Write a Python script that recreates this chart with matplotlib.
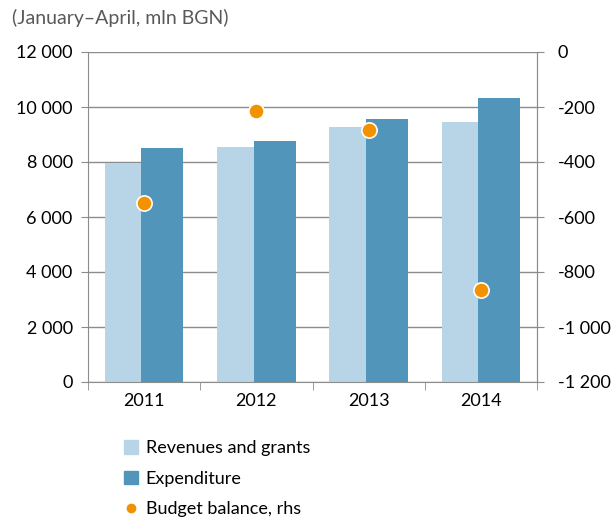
import matplotlib.pyplot as plt
import numpy as np
from matplotlib.lines import Line2D
from matplotlib.patches import Patch

plt.rcParams['font.family'] = ['Lato', 'DejaVu Sans']

years = ["2011", "2012", "2013", "2014"]
revenues = [7950, 8545, 9285, 9455]
expenditure = [8495, 8750, 9575, 10330]
balance = [-550, -216, -285, -864]

c_rev = "#b7d5e6"
c_exp = "#5195ba"
c_bal = "#f39200"
grey = "#8c8c8c"
fs = 13

fig = plt.figure(figsize=(6.14, 5.19), dpi=100)
ax = fig.add_axes([88 / 614, 1 - 382 / 519, 449 / 614, 330 / 519])
x = np.arange(len(years))
w = 0.374
ax.bar(x - 0.163, revenues, w, color=c_rev, zorder=2)
ax.bar(x + 0.163, expenditure, w, color=c_exp, zorder=3)
ax.set_xlim(-0.5, 3.5)
ax.set_ylim(0, 12000)
ax.set_yticks(range(0, 12001, 2000))
ax.set_yticklabels([f"{v:,}".replace(",", " ") for v in range(0, 12001, 2000)])
ax.yaxis.grid(True, color=grey, lw=1, zorder=0)
ax.set_axisbelow(True)
ax.set_xticks(x)
ax.set_xticklabels(years)
ax.set_xticks(np.arange(-0.5, 4, 1), minor=True)
ax.tick_params(axis='x', which='major', length=0, pad=8, labelsize=fs)
ax.tick_params(axis='x', which='minor', length=6, color=grey)
ax.tick_params(axis='y', length=5, color=grey, labelsize=fs, pad=6)
ax.spines['top'].set_visible(False)
for s in ['left', 'right', 'bottom']:
    ax.spines[s].set_color(grey)

ax2 = ax.twinx()
ax2.scatter(x, balance, s=120, color=c_bal, edgecolor='white', linewidth=1.2, zorder=5)
ax2.set_ylim(-1200, 0)
ax2.set_yticks(range(-1200, 1, 200))
ax2.set_yticklabels([f"{v:,}".replace(",", " ") for v in range(-1200, 1, 200)])
ax2.tick_params(axis='y', length=5, color=grey, labelsize=fs, pad=10)
for s in ['top', 'left', 'bottom']:
    ax2.spines[s].set_visible(False)
ax2.spines['right'].set_color(grey)

fig.text(12 / 614, 1 - 18 / 519, "(January–April, mln BGN)", fontsize=14, color="#595959", va='center')

handles = [Patch(color=c_rev), Patch(color=c_exp),
           Line2D([], [], marker='o', ls='', color=c_bal, markersize=6)]
labels = ["Revenues and grants", "Expenditure", "Budget balance, rhs"]
fig.legend(handles, labels, loc='upper left', bbox_to_anchor=(124 / 614, 1 - 440 / 519),
           frameon=False, fontsize=fs, handlelength=0.8, handleheight=0.8,
           handletextpad=0.4, labelspacing=0.8, borderaxespad=0, borderpad=0)

fig.savefig("out.png", dpi=100)
